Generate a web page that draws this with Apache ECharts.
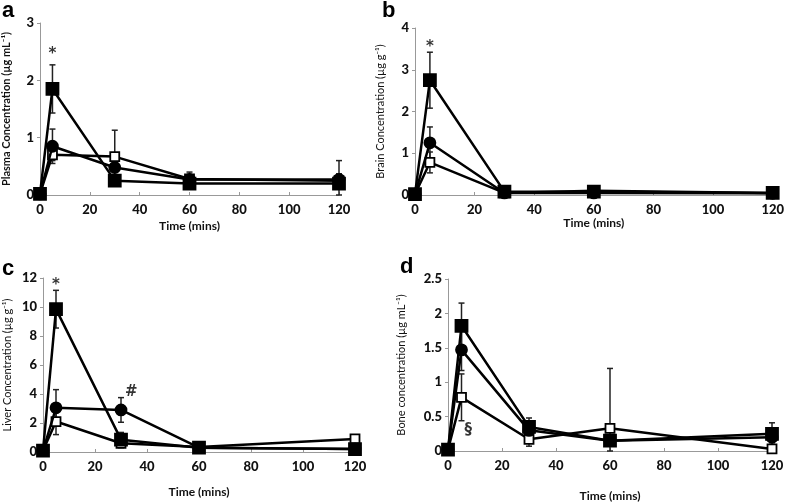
<!DOCTYPE html>
<html>
<head>
<meta charset="utf-8">
<script src="https://cdn.jsdelivr.net/npm/echarts@6/dist/echarts.min.js"></script>
<style>
  html, body { margin: 0; padding: 0; background: #fff; }
  #chart { width: 787px; height: 503px; }
</style>
</head>
<body>
<div id="chart"></div>
<script>
;(function () {
  // 时间点 (mins)
  var times = [0, 5, 30, 60, 120]

  // a - plasma
  var plasmaFilledSq = [0.02, 1.85, 0.25, 0.2, 0.2]
  var plasmaFilledSqErr = [0, 0.42, 0.03, 0.03, 0.05]
  var plasmaCircle = [0.02, 0.85, 0.48, 0.27, 0.27]
  var plasmaCircleErr = [0, 0.3, 0.05, 0.05, 0.1]
  var plasmaOpenSq = [0.02, 0.7, 0.67, 0.28, 0.25]
  var plasmaOpenSqErr = [0, 0.1, 0.46, 0.12, 0.35]

  // b - brain
  var brainFilledSq = [0.02, 2.75, 0.08, 0.08, 0.05]
  var brainFilledSqErr = [0, 0.67, 0.02, 0.02, 0.02]
  var brainCircle = [0.02, 1.25, 0.05, 0.05, 0.04]
  var brainCircleErr = [0, 0.38, 0, 0, 0]
  var brainOpenSq = [0.02, 0.78, 0.05, 0.1, 0.05]
  var brainOpenSqErr = [0, 0.25, 0.02, 0.05, 0.02]

  // c - liver
  var liverFilledSq = [0.1, 9.85, 0.85, 0.3, 0.2]
  var liverFilledSqErr = [0, 1.3, 0.5, 0.1, 0.1]
  var liverCircle = [0.1, 3.05, 2.9, 0.3, 0.2]
  var liverCircleErr = [0, 1.25, 0.85, 0.1, 0.1]
  var liverOpenSq = [0.1, 2.1, 0.6, 0.35, 0.9]
  var liverOpenSqErr = [0, 0.9, 0.3, 0.1, 0.15]

  // d - bone
  var boneFilledSq = [0.02, 1.82, 0.35, 0.15, 0.25]
  var boneFilledSqErr = [0, 0.33, 0.13, 0.05, 0.16]
  var boneCircle = [0.02, 1.47, 0.3, 0.15, 0.2]
  var boneCircleErr = [0, 0.3, 0.1, 0.05, 0.08]
  var boneOpenSq = [0.02, 0.78, 0.17, 0.33, 0.03]
  var boneOpenSqErr = [0, 0.34, 0.1, 0.87, 0.03]

  // 显著性标记 [x, y, text]
  var marksA = [[5, 2.45, '*']]
  var marksB = [[5, 3.55, '*']]
  var marksC = [[5, 11.5, '*'], [34, 4.1, '#']]
  var marksD = [[7.5, 0.3, '§']]

  var panels = [
    { letter: 'a', yName: 'Plasma Concentration (µg mL⁻¹)', yMax: 3, yInt: 1, nameBold: 'bold',
      sets: [[plasmaOpenSq, plasmaOpenSqErr], [plasmaCircle, plasmaCircleErr], [plasmaFilledSq, plasmaFilledSqErr]], marks: marksA,
      grid: { left: 38, right: 448, top: 23, bottom: 308 }, yGap: 28, xGap: 25, lx: 2, ly: 0 },
    { letter: 'b', yName: 'Brain Concentration (µg g⁻¹)', yMax: 4, yInt: 1, nameBold: 'normal',
      sets: [[brainOpenSq, brainOpenSqErr], [brainCircle, brainCircleErr], [brainFilledSq, brainFilledSqErr]], marks: marksB,
      grid: { left: 415, right: 10, top: 28, bottom: 308 }, yGap: 29, xGap: 18, lx: 382, ly: 0 },
    { letter: 'c', yName: 'Liver Concentration (µg g⁻¹)', yMax: 12, yInt: 2, nameBold: 'normal',
      sets: [[liverOpenSq, liverOpenSqErr], [liverCircle, liverCircleErr], [liverFilledSq, liverFilledSqErr]], marks: marksC,
      grid: { left: 43, right: 432, top: 278, bottom: 51 }, yGap: 30, xGap: 34, lx: 2, ly: 258 },
    { letter: 'd', yName: 'Bone concentration (µg mL⁻¹)', yMax: 2.5, yInt: 0.5, nameBold: 'normal',
      sets: [[boneOpenSq, boneOpenSqErr], [boneCircle, boneCircleErr], [boneFilledSq, boneFilledSqErr]], marks: marksD,
      grid: { left: 448, right: 15, top: 279, bottom: 46 }, yGap: 41, xGap: 39, lx: 400, ly: 256 }
  ]

  var symbols = [
    { symbol: 'rect', color: '#fff', size: 9 },
    { symbol: 'circle', color: '#000', size: 11 },
    { symbol: 'rect', color: '#000', size: 12 }
  ]

  var font = 'Lato, "Open Sans", sans-serif'
  var grids = [], xAxes = [], yAxes = [], series = [], graphics = []

  function errRender(params, api) {
    var x = api.value(0)
    var hi = api.coord([x, api.value(2)])
    var lo = api.coord([x, api.value(1)])
    var cap = 3
    var st = { stroke: '#222', lineWidth: 1.5 }
    return {
      type: 'group',
      children: [
        { type: 'line', shape: { x1: hi[0], y1: hi[1], x2: lo[0], y2: lo[1] }, style: st },
        { type: 'line', shape: { x1: hi[0] - cap, y1: hi[1], x2: hi[0] + cap, y2: hi[1] }, style: st },
        { type: 'line', shape: { x1: lo[0] - cap, y1: lo[1], x2: lo[0] + cap, y2: lo[1] }, style: st }
      ]
    }
  }

  panels.forEach(function (p, i) {
    grids.push(p.grid)
    xAxes.push({
      gridIndex: i, type: 'value', min: 0, max: 120, interval: 20,
      name: 'Time (mins)', nameLocation: 'middle', nameGap: p.xGap,
      nameTextStyle: { fontFamily: font, fontWeight: 'bold', fontSize: 12, color: '#111' },
      axisLine: { lineStyle: { color: '#999', width: 1 } },
      axisTick: { inside: true, length: 3, lineStyle: { color: '#999' } },
      axisLabel: { fontFamily: font, fontWeight: 900, fontSize: 13, color: '#111', margin: 8 },
      splitLine: { show: false }
    })
    yAxes.push({
      gridIndex: i, type: 'value', min: 0, max: p.yMax, interval: p.yInt,
      name: p.yName, nameLocation: 'middle', nameGap: p.yGap, nameRotate: 90,
      nameTextStyle: { fontFamily: font, fontWeight: p.nameBold, fontSize: 11, color: '#111' },
      axisLine: { show: true, lineStyle: { color: '#999', width: 1 } },
      axisTick: { show: true, length: 3, lineStyle: { color: '#999' } },
      axisLabel: { fontFamily: font, fontWeight: 900, fontSize: 13, color: '#111', margin: 6 },
      splitLine: { show: false }
    })

    p.sets.forEach(function (set, k) {
      var vals = set[0], errs = set[1]
      var errData = times.map(function (t, j) {
        return [t, Math.max(0, vals[j] - errs[j]), vals[j] + errs[j]]
      })
      series.push({
        type: 'custom', xAxisIndex: i, yAxisIndex: i, renderItem: errRender,
        data: errData, encode: { x: 0, y: [1, 2] }, z: 1, silent: true
      })
      series.push({
        type: 'line', xAxisIndex: i, yAxisIndex: i,
        data: times.map(function (t, j) { return [t, vals[j]] }),
        symbol: symbols[k].symbol, symbolSize: symbols[k].size, showAllSymbol: true,
        lineStyle: { color: '#000', width: 2.5 },
        itemStyle: { color: symbols[k].color, borderColor: '#000', borderWidth: 1.8 },
        z: 2 + k, silent: true
      })
    })

    series.push({
      type: 'scatter', xAxisIndex: i, yAxisIndex: i, symbolSize: 0, silent: true,
      data: p.marks,
      label: {
        show: true, position: 'inside', fontFamily: '"DejaVu Sans", sans-serif', fontWeight: 'bold', fontSize: 15, color: '#000',
        formatter: function (d) { return d.value[2] }
      }
    })

    graphics.push({
      type: 'text', left: p.lx, top: p.ly,
      style: { text: p.letter, font: 'bold 22px Arial, "Liberation Sans", sans-serif', fill: '#000' }
    })
  })

  var myChart = echarts.init(document.getElementById('chart'))
  myChart.setOption({
    animation: false,
    grid: grids,
    xAxis: xAxes,
    yAxis: yAxes,
    series: series,
    graphic: graphics
  })
  window.addEventListener('resize', function () {
    myChart.resize()
  })
})()
</script>
</body>
</html>
